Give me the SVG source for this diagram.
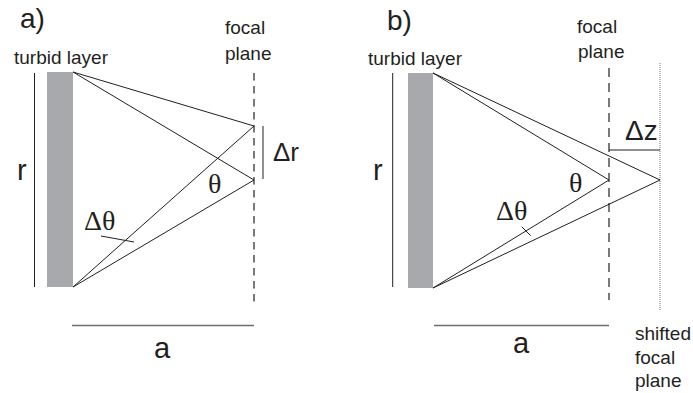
<svg xmlns="http://www.w3.org/2000/svg" width="693" height="393" viewBox="0 0 693 393">
<style>
.bg{fill:#ffffff}
.lyr{fill:#a7a9ac}
.ln{stroke:#231f20;stroke-width:1;fill:none}
.dim{stroke:#6d6e71;stroke-width:1.6;fill:none}
.dash{stroke:#231f20;stroke-width:1.2;stroke-dasharray:7.5 5.5;fill:none}
.dashb{stroke:#231f20;stroke-width:1.2;stroke-dasharray:9 6;fill:none}
.dot{stroke:#8a8c8e;stroke-width:1.2;stroke-dasharray:1 1;fill:none}
.t{font-family:"Liberation Sans",Arial,sans-serif;fill:#231f20}
.s{font-size:19px}
.big{font-size:28px}
.g{font-family:"Liberation Serif","Times New Roman",serif;font-size:28px;fill:#231f20}
</style>
<rect class="bg" x="0" y="0" width="693" height="393"/>

<g id="panel-a">
  <text class="t big" x="20" y="28">a)</text>
  <g id="a-layer">
    <rect class="lyr" x="47" y="72" width="26" height="215"/>
    <text class="t s" x="14" y="64">turbid layer</text>
  </g>
  <g id="a-r">
    <line class="ln" x1="34.5" y1="73" x2="34.5" y2="287"/>
    <text class="t" font-size="29" x="17" y="180">r</text>
  </g>
  <g id="a-focal">
    <line class="dash" x1="254" y1="73" x2="254" y2="305"/>
    <text class="t s" x="225" y="34">focal</text>
    <text class="t s" x="225" y="60">plane</text>
  </g>
  <g id="a-dr">
    <line class="ln" x1="263" y1="126" x2="263" y2="179"/>
    <text class="t" font-size="26" x="273" y="161">Δr</text>
  </g>
  <g id="a-dim">
    <line class="dim" x1="72" y1="325.5" x2="254" y2="325.5"/>
    <text class="t" font-size="29" x="154" y="358">a</text>
  </g>
  <text class="g" x="208" y="193">θ</text>
  <text class="g" x="84" y="230">Δθ</text>
</g>

<g id="panel-b">
  <text class="t big" x="387" y="30">b)</text>
  <g id="b-layer">
    <rect class="lyr" x="408" y="73" width="25" height="215"/>
    <text class="t s" x="368" y="65">turbid layer</text>
  </g>
  <g id="b-r">
    <line class="ln" x1="392.7" y1="73" x2="392.7" y2="287"/>
    <text class="t" font-size="29" x="373" y="180">r</text>
  </g>
  <g id="b-focal">
    <line class="dashb" x1="609" y1="68" x2="609" y2="300"/>
    <text class="t s" x="577" y="33">focal</text>
    <text class="t s" x="578" y="58">plane</text>
  </g>
  <g id="b-shifted">
    <line class="dot" x1="660" y1="63" x2="660" y2="310"/>
    <text class="t s" x="635" y="340">shifted</text>
    <text class="t s" x="635" y="364">focal</text>
    <text class="t s" x="635" y="387">plane</text>
  </g>
  <g id="b-dz">
    <line class="ln" x1="609" y1="150" x2="660" y2="150"/>
    <text class="t" font-size="28" x="625" y="140">Δz</text>
  </g>
  <g id="b-dim">
    <line class="dim" x1="434" y1="325.5" x2="609" y2="325.5"/>
    <text class="t" font-size="29" x="513" y="353">a</text>
  </g>
  <text class="g" x="569" y="192">θ</text>
  <text class="g" x="496" y="220">Δθ</text>
</g>

<g id="connectors">
  <line class="ln" x1="73" y1="72" x2="254" y2="126"/>
  <line class="ln" x1="73" y1="72" x2="254" y2="180"/>
  <line class="ln" x1="73" y1="287" x2="254" y2="126"/>
  <line class="ln" x1="73" y1="287" x2="254" y2="180"/>
  <line class="ln" x1="101" y1="236" x2="134" y2="242"/>
  <line class="ln" x1="433" y1="73" x2="609" y2="180"/>
  <line class="ln" x1="433" y1="73" x2="660" y2="180"/>
  <line class="ln" x1="433" y1="288" x2="609" y2="180"/>
  <line class="ln" x1="433" y1="288" x2="660" y2="180"/>
  <line class="ln" x1="521.7" y1="226.7" x2="530.7" y2="235.7"/>
</g>
</svg>
